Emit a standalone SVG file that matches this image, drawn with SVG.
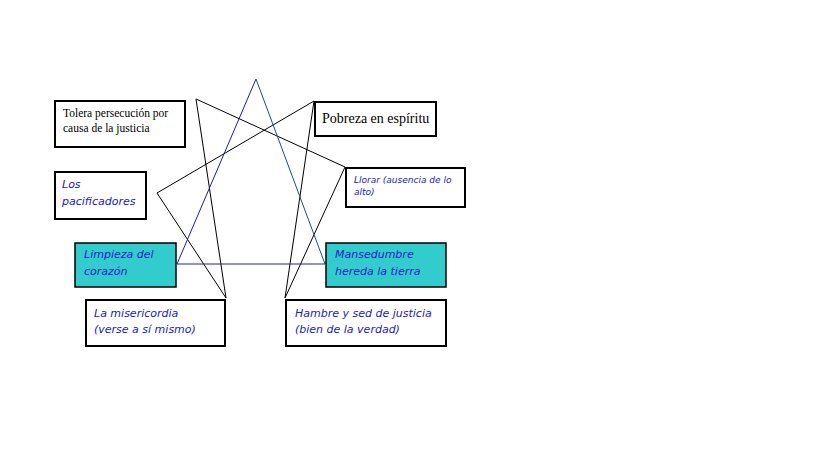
<svg xmlns="http://www.w3.org/2000/svg" width="819" height="460" viewBox="0 0 819 460">
<style>
.box{fill:#fff;stroke:#000;stroke-width:2}
.teal{fill:#33CCCC;stroke:#000;stroke-width:1.5}
.serif{font-family:"Liberation Serif","Times New Roman",serif;fill:#000}
.it{font-family:"DejaVu Sans",Verdana,sans-serif;font-style:italic;fill:#2020c8}
.blk{fill:none;stroke:#000;stroke-width:1}
</style>
<rect width="819" height="460" fill="#fff"/>
<g id="connectors">
<polygon class="blk" points="196,99 345,167 285,298 314,101 157,193 226,298"/>
<line x1="256" y1="79" x2="177" y2="264" stroke="#1c1ca8" stroke-width="1"/>
<line x1="256" y1="79" x2="325" y2="264" stroke="#1f4f6f" stroke-width="1"/>
<line x1="177" y1="264" x2="325" y2="264" stroke="#2020b0" stroke-width="1"/>
</g>
<g id="tolera">
<rect class="box" x="55" y="101" width="130" height="46"/>
<text class="serif" font-size="11.5" x="63" y="117">Tolera persecución por</text>
<text class="serif" font-size="11.5" x="63" y="132">causa de la justicia</text>
</g>
<g id="pobreza">
<rect class="box" x="315" y="102" width="121" height="34"/>
<text class="serif" font-size="14" x="322" y="123">Pobreza en espíritu</text>
</g>
<g id="pacificadores">
<rect class="box" x="55" y="172" width="91" height="47"/>
<text class="it" font-size="11" x="62" y="188">Los</text>
<text class="it" font-size="11" x="62" y="205">pacificadores</text>
</g>
<g id="llorar">
<rect class="box" x="346" y="168" width="119" height="39"/>
<text class="it" font-size="9" x="354" y="183">Llorar (ausencia de lo</text>
<text class="it" font-size="9" x="354" y="195">alto)</text>
</g>
<g id="limpieza">
<rect class="teal" x="75" y="243" width="101" height="44"/>
<text class="it" font-size="11" x="84" y="258">Limpieza del</text>
<text class="it" font-size="11" x="84" y="275">corazón</text>
</g>
<g id="mansedumbre">
<rect class="teal" x="326" y="243" width="120" height="44"/>
<text class="it" font-size="11" x="335" y="258">Mansedumbre</text>
<text class="it" font-size="11" x="335" y="275">hereda la tierra</text>
</g>
<g id="misericordia">
<rect class="box" x="86" y="300" width="139" height="46"/>
<text class="it" font-size="11" x="94" y="317">La misericordia</text>
<text class="it" font-size="11" x="94" y="333">(verse a sí mismo)</text>
</g>
<g id="hambre">
<rect class="box" x="286" y="300" width="160" height="46"/>
<text class="it" font-size="11" x="295" y="317">Hambre y sed de justicia</text>
<text class="it" font-size="11" x="295" y="333">(bien de la verdad)</text>
</g>
</svg>
